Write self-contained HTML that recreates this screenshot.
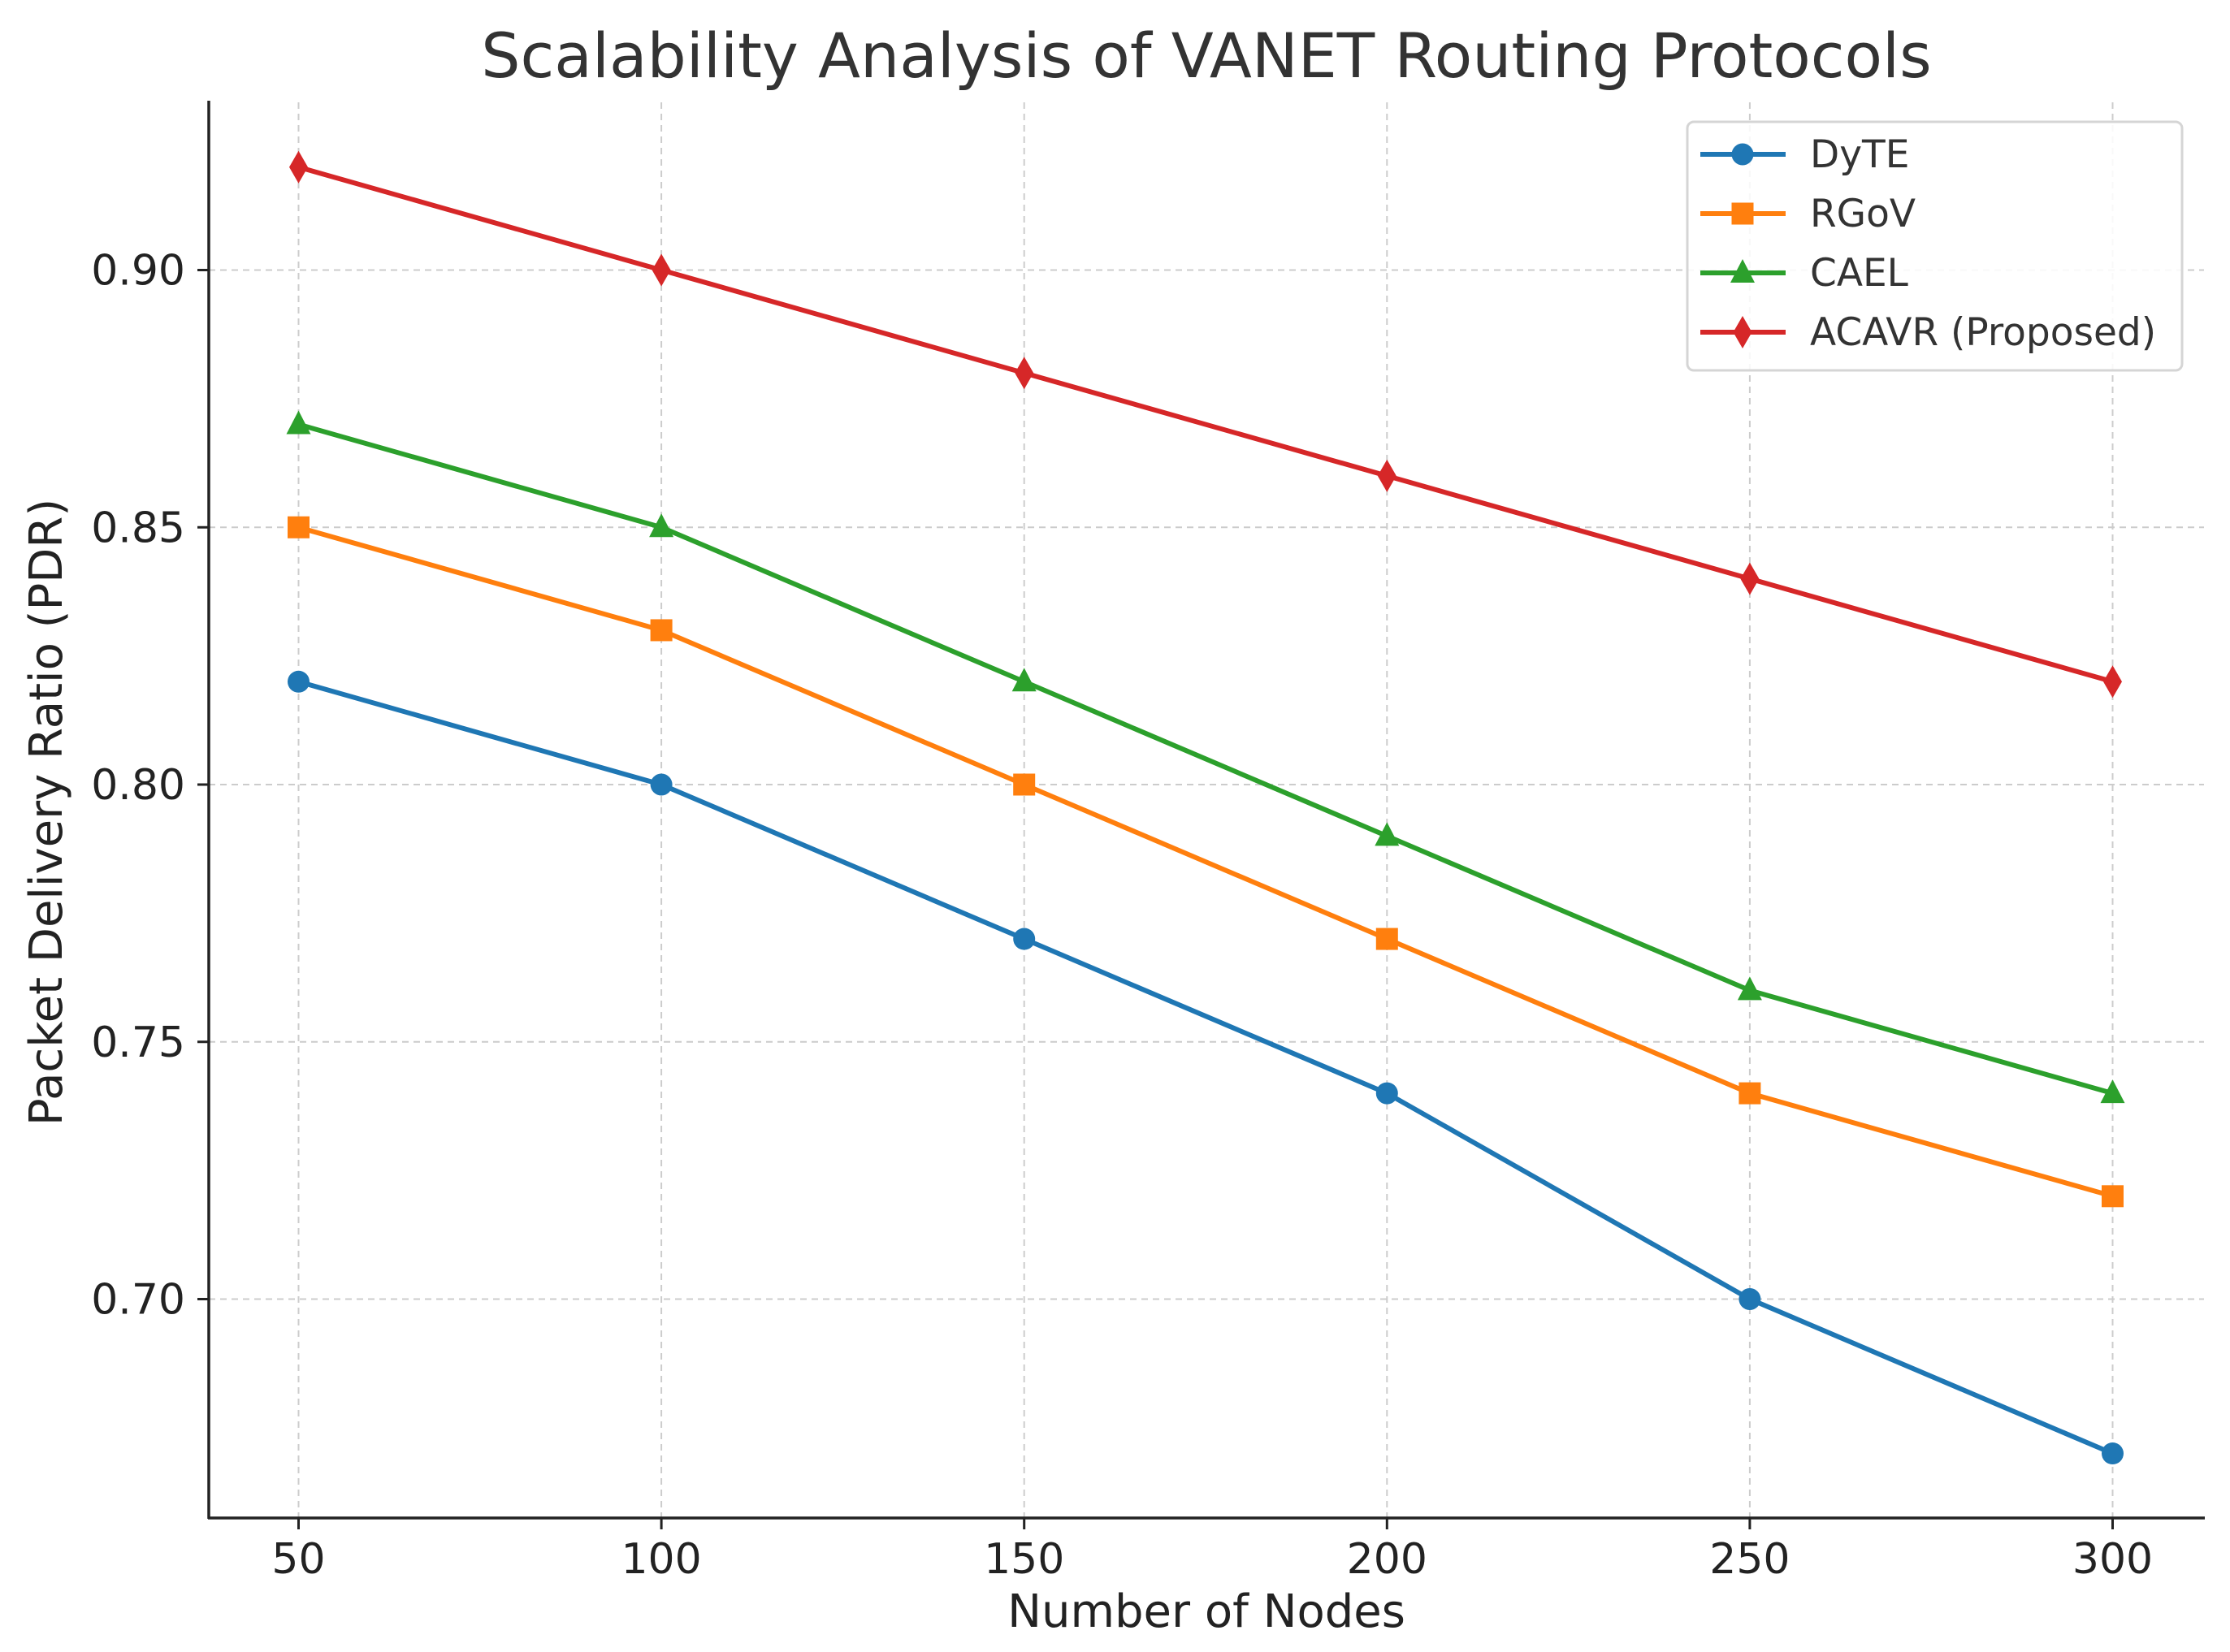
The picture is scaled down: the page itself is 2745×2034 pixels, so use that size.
<!DOCTYPE html>
<html><head><meta charset="utf-8"><style>
html,body{margin:0;padding:0;background:#fff;}
svg{display:block;font-family:"DejaVu Sans","Liberation Sans",sans-serif;}
</style></head><body>
<svg id="chart" width="2745" height="2034" viewBox="0 0 2745 2034" xmlns="http://www.w3.org/2000/svg">
<rect width="2745" height="2034" fill="#fff"/>
<text x="1485" y="95" font-size="76" text-anchor="middle" fill="#333">Scalability Analysis of VANET Routing Protocols</text>
<g id="grid"></g>
<g id="series"></g>
<line x1="257" y1="124" x2="257" y2="1870" stroke="#222" stroke-width="3.5"/>
<line x1="256" y1="1869" x2="2714" y2="1869" stroke="#222" stroke-width="3.5"/>
<g id="ticks"></g>
<text x="1485" y="2003" font-size="56" text-anchor="middle" fill="#222">Number of Nodes</text>
<text transform="translate(76,1000) rotate(-90)" font-size="56" text-anchor="middle" fill="#222">Packet Delivery Ratio (PDR)</text>
<g id="legend"></g>
</svg>
<script>
const categories=[50,100,150,200,250,300];
const dyte=[0.82,0.80,0.77,0.74,0.70,0.67];
const rgov=[0.85,0.83,0.80,0.77,0.74,0.72];
const cael=[0.87,0.85,0.82,0.79,0.76,0.74];
const acavr=[0.92,0.90,0.88,0.86,0.84,0.82];
const seriesNames=["DyTE","RGoV","CAEL","ACAVR (Proposed)"];
const xTicks=[50,100,150,200,250,300];
const yTicks=[0.70,0.75,0.80,0.85,0.90];
const NS="http://www.w3.org/2000/svg";
const X=v=>367.5+(v-50)*(2600.5-367.5)/250;
const Y=v=>1599.5+(v-0.70)*(332.5-1599.5)/0.20;
function mk(t,a,p){const e=document.createElementNS(NS,t);for(const k in a)e.setAttribute(k,a[k]);p.appendChild(e);return e;}
const grid=document.getElementById('grid'),ticks=document.getElementById('ticks');
xTicks.forEach(t=>{
 const g=mk('line',{x1:X(t),x2:X(t),y1:126,y2:1869,stroke:'#ccc','stroke-width':2,'stroke-dasharray':'8,6'},grid);
 
 
 mk('line',{x1:X(t),x2:X(t),y1:1869,y2:1883,stroke:'#222','stroke-width':3},ticks);
 const tx=mk('text',{x:X(t),y:1937,'font-size':52,'text-anchor':'middle',fill:'#222'},ticks);
 tx.textContent=t;
 
 
});
yTicks.forEach(t=>{
 const g=mk('line',{x1:257,x2:2713,y1:Y(t),y2:Y(t),stroke:'#ccc','stroke-width':2,'stroke-dasharray':'8,6'},grid);
 
 
 mk('line',{x1:243,x2:257,y1:Y(t),y2:Y(t),stroke:'#222','stroke-width':3},ticks);
 const tx=mk('text',{x:228,y:Y(t)+18,'font-size':52,'text-anchor':'end',fill:'#222'},ticks);
 tx.textContent=t.toFixed(2);
 
 
});
const colors=['#1f77b4','#ff7f0e','#2ca02c','#d62728'];
const shapes=['circle','square','triangle','diamond'];
function marker(sh,x,y,c,p){
 if(sh==='circle')return mk('circle',{cx:x,cy:y,r:13.5,fill:c},p);
 if(sh==='square')return mk('rect',{x:x-13.5,y:y-13.5,width:27,height:27,fill:c},p);
 if(sh==='triangle')return mk('polygon',{points:`${x},${y-17} ${x+15},${y+12} ${x-15},${y+12}`,fill:c},p);
 return mk('polygon',{points:`${x},${y-20} ${x+11.5},${y} ${x},${y+20} ${x-11.5},${y}`,fill:c},p);
}
const ser=document.getElementById('series');
[dyte,rgov,cael,acavr].forEach((d,i)=>{
 const g=mk('g',{},ser);
 
 
 const pl=mk('polyline',{points:d.map((v,j)=>X(categories[j])+','+Y(v)).join(' '),fill:'none',stroke:colors[i],'stroke-width':6,'stroke-linejoin':'round'},g);
 
 
 d.forEach((v,j)=>{
  const m=marker(shapes[i],X(categories[j]),Y(v),colors[i],g);
  
  
 });
});
const lg=document.getElementById('legend');
mk('rect',{x:2077,y:150,width:609,height:306,rx:8,fill:'#fff','fill-opacity':0.85,stroke:'#d5d5d5','stroke-width':3},lg);
seriesNames.forEach((n,i)=>{
 const y=190+i*73;
 const e=mk('g',{},lg);
 
 
 mk('line',{x1:2093,x2:2198,y1:y,y2:y,stroke:colors[i],'stroke-width':6},e);
 marker(shapes[i],2145,y,colors[i],e);
 const t=mk('text',{x:2228,y:y+16,'font-size':47,fill:'#333'},e);
 t.textContent=n;
});
</script>
</body></html>
